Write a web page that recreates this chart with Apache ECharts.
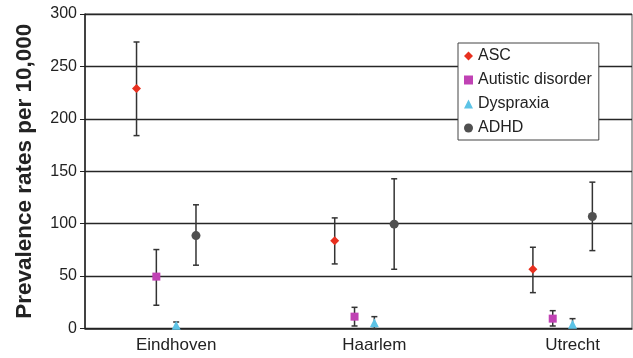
<!DOCTYPE html>
<html><head><meta charset="utf-8">
<script src="https://cdn.jsdelivr.net/npm/echarts@6/dist/echarts.min.js"></script>
<style>html,body{margin:0;padding:0;background:#fff}#c{width:633px;height:358px}</style>
</head><body><div id="c"></div>
<script>
const categories = ['Eindhoven', 'Haarlem', 'Utrecht'];
const seriesNames = ['ASC', 'Autistic disorder', 'Dyspraxia', 'ADHD'];
const ascValues = [229, 83.6, 56.5];
const ascLow = [184, 61.6, 34.2];
const ascHigh = [273.3, 105.5, 77.5];
const autValues = [49.5, 11.3, 9.4];
const autLow = [22.2, 2.4, 2.4];
const autHigh = [75.3, 20.2, 17];
const dysValues = [3, 5.5, 4];
const dysLow = [0.5, 0, 0.2];
const dysHigh = [6.2, 11.3, 9.4];
const adhdValues = [88.6, 99.5, 106.8];
const adhdLow = [60.4, 56.5, 74.3];
const adhdHigh = [118, 142.8, 139.6];
const yTicks = [0, 50, 100, 150, 200, 250, 300];

const offsets = [-0.2, -0.1, 0, 0.1];
const colors = ['#e8301f', '#c042b4', '#5cc3e6', '#505050'];
const symbols = ['diamond', 'rect', 'triangle', 'circle'];
const sizes = [9, 8, 9, 9];
const vals = [ascValues, autValues, dysValues, adhdValues];
const lows = [ascLow, autLow, dysLow, adhdLow];
const highs = [ascHigh, autHigh, dysHigh, adhdHigh];

const series = [];
seriesNames.forEach((name, s) => {
  series.push({
    type: 'custom',
    name: name + ' err',
    silent: true,
    z: 3,
    data: categories.map((c, i) => [i + 1 + offsets[s], lows[s][i], highs[s][i]]),
    renderItem: function (params, api) {
      const lo = api.coord([api.value(0), api.value(1)]);
      const hi = api.coord([api.value(0), api.value(2)]);
      const w = 3;
      const st = { stroke: '#333', lineWidth: 1.5 };
      return { type: 'group', children: [
        { type: 'line', shape: { x1: lo[0], y1: lo[1], x2: hi[0], y2: hi[1] }, style: st },
        { type: 'line', shape: { x1: lo[0] - w, y1: lo[1], x2: lo[0] + w, y2: lo[1] }, style: st },
        { type: 'line', shape: { x1: hi[0] - w, y1: hi[1], x2: hi[0] + w, y2: hi[1] }, style: st }
      ]};
    }
  });
  series.push({
    type: 'scatter',
    name: name,
    z: 5,
    symbol: symbols[s],
    symbolSize: sizes[s],
    itemStyle: { color: colors[s], opacity: 1 },
    data: categories.map((c, i) => [i + 1 + offsets[s], vals[s][i]])
  });
});

const chart = echarts.init(document.getElementById('c'));
chart.setOption({
  animation: false,
  textStyle: { fontFamily: 'Liberation Sans, Arial, sans-serif' },
  grid: { left: 85, right: 1, top: 14, bottom: 29.5, show: true, borderColor: '#555', borderWidth: 1 },
  legend: {
    data: seriesNames.map((n, s) => ({ name: n, icon: symbols[s] })),
    orient: 'vertical', left: 458, top: 43,
    backgroundColor: '#fff', borderColor: '#444', borderWidth: 1,
    padding: [5, 7, 4, 6], itemGap: 8, itemWidth: 9, itemHeight: 9,
    textStyle: { fontSize: 16, color: '#222', fontFamily: 'Liberation Sans, Arial, sans-serif' }
  },
  xAxis: {
    type: 'value', min: 0.54, max: 3.3,
    splitLine: { show: false },
    axisLine: { show: true, onZero: false, lineStyle: { color: '#222', width: 1.5 } },
    axisTick: { show: false },
    axisLabel: {
      customValues: [1, 2, 3],
      formatter: v => categories[Math.round(v) - 1] || '',
      fontSize: 17, color: '#222', margin: 8
    }
  },
  yAxis: {
    type: 'value', min: 0, max: 300, interval: 50,
    name: 'Prevalence rates per 10,000', nameLocation: 'middle', nameGap: 49,
    nameTextStyle: { fontSize: 22.5, fontWeight: 'bold', color: '#222' },
    axisLine: { show: true, lineStyle: { color: '#222', width: 1.5 } },
    axisTick: { show: true, length: 5, lineStyle: { color: '#222' } },
    axisLabel: { fontSize: 16, color: '#222', margin: 8, formatter: v => yTicks.includes(v) ? String(v) : '' },
    splitLine: { show: true, lineStyle: { color: '#262626', width: 1.3 } }
  },
  series: series
});
</script></body></html>
